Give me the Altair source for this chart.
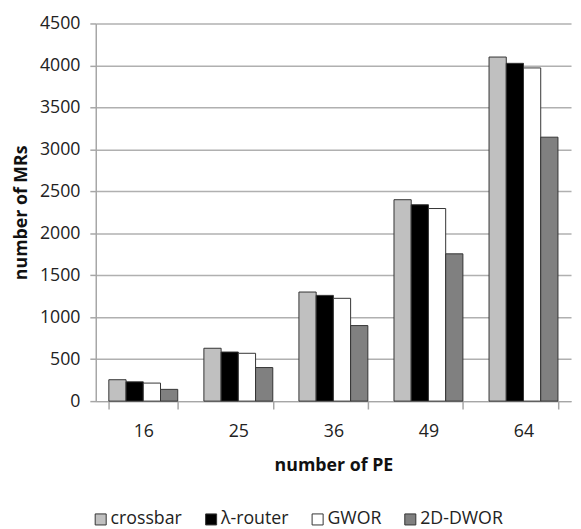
import altair as alt
import pandas as pd

pe = ["16", "25", "36", "49", "64"]
series = ["crossbar", "λ-router", "GWOR", "2D-DWOR"]
crossbar = [255, 630, 1300, 2400, 4100]
lam = [230, 585, 1260, 2340, 4025]
gwor = [215, 570, 1225, 2295, 3970]
dwor = [140, 400, 900, 1755, 3145]
colors = ["#c0c0c0", "#000000", "#ffffff", "#808080"]

rows = []
for s, vals in zip(series, [crossbar, lam, gwor, dwor]):
    for p, v in zip(pe, vals):
        rows.append({"PE": p, "series": s, "value": v})
df = pd.DataFrame(rows)

font = "Open Sans"

chart = alt.Chart(df).mark_bar(stroke="#333333", strokeWidth=1).encode(
    x=alt.X("PE:N", sort=pe,
            scale=alt.Scale(paddingInner=0.275, paddingOuter=0.1375),
            axis=alt.Axis(title="number of PE", labelAngle=0, tickBand="extent",
                          tickSize=8, labelPadding=14, titlePadding=16,
                          domainColor="#a6a6a6", tickColor="#a6a6a6",
                          domainWidth=1.5, tickWidth=1.5, grid=False)),
    xOffset=alt.XOffset("series:N", sort=series),
    y=alt.Y("value:Q",
            scale=alt.Scale(domain=[0, 4500]),
            axis=alt.Axis(title="number of MRs", values=list(range(0, 4501, 500)),
                          format="d",
                          tickSize=6, labelPadding=10, titlePadding=9,
                          domainColor="#a6a6a6", tickColor="#a6a6a6",
                          gridColor="#b0b0b0", gridWidth=1.5,
                          domainWidth=1.5, tickWidth=1.5)),
    fill=alt.Fill("series:N", sort=series,
                  scale=alt.Scale(domain=series, range=colors),
                  legend=alt.Legend(title=None, orient="none", direction="horizontal",
                                    legendX=-4, legendY=494,
                                    symbolType="square", symbolSize=125,
                                    symbolStrokeColor="#333333", symbolStrokeWidth=1,
                                    columnPadding=20, labelOffset=1,
                                    labelFontSize=18, labelFont=font,
                                    labelColor="#222222")),
).properties(
    width=482, height=383,
    padding={"left": 89, "top": 12, "right": 2, "bottom": 126},
    autosize=alt.AutoSizeParams(type="none"),
).configure_view(stroke=None).configure_axis(
    labelFont=font, titleFont=font, labelFontSize=18, titleFontSize=18,
    titleFontWeight="bold", labelColor="#222222", titleColor="#111111",
)

chart.save("out.html", embed_options={"renderer": "svg", "actions": False})
